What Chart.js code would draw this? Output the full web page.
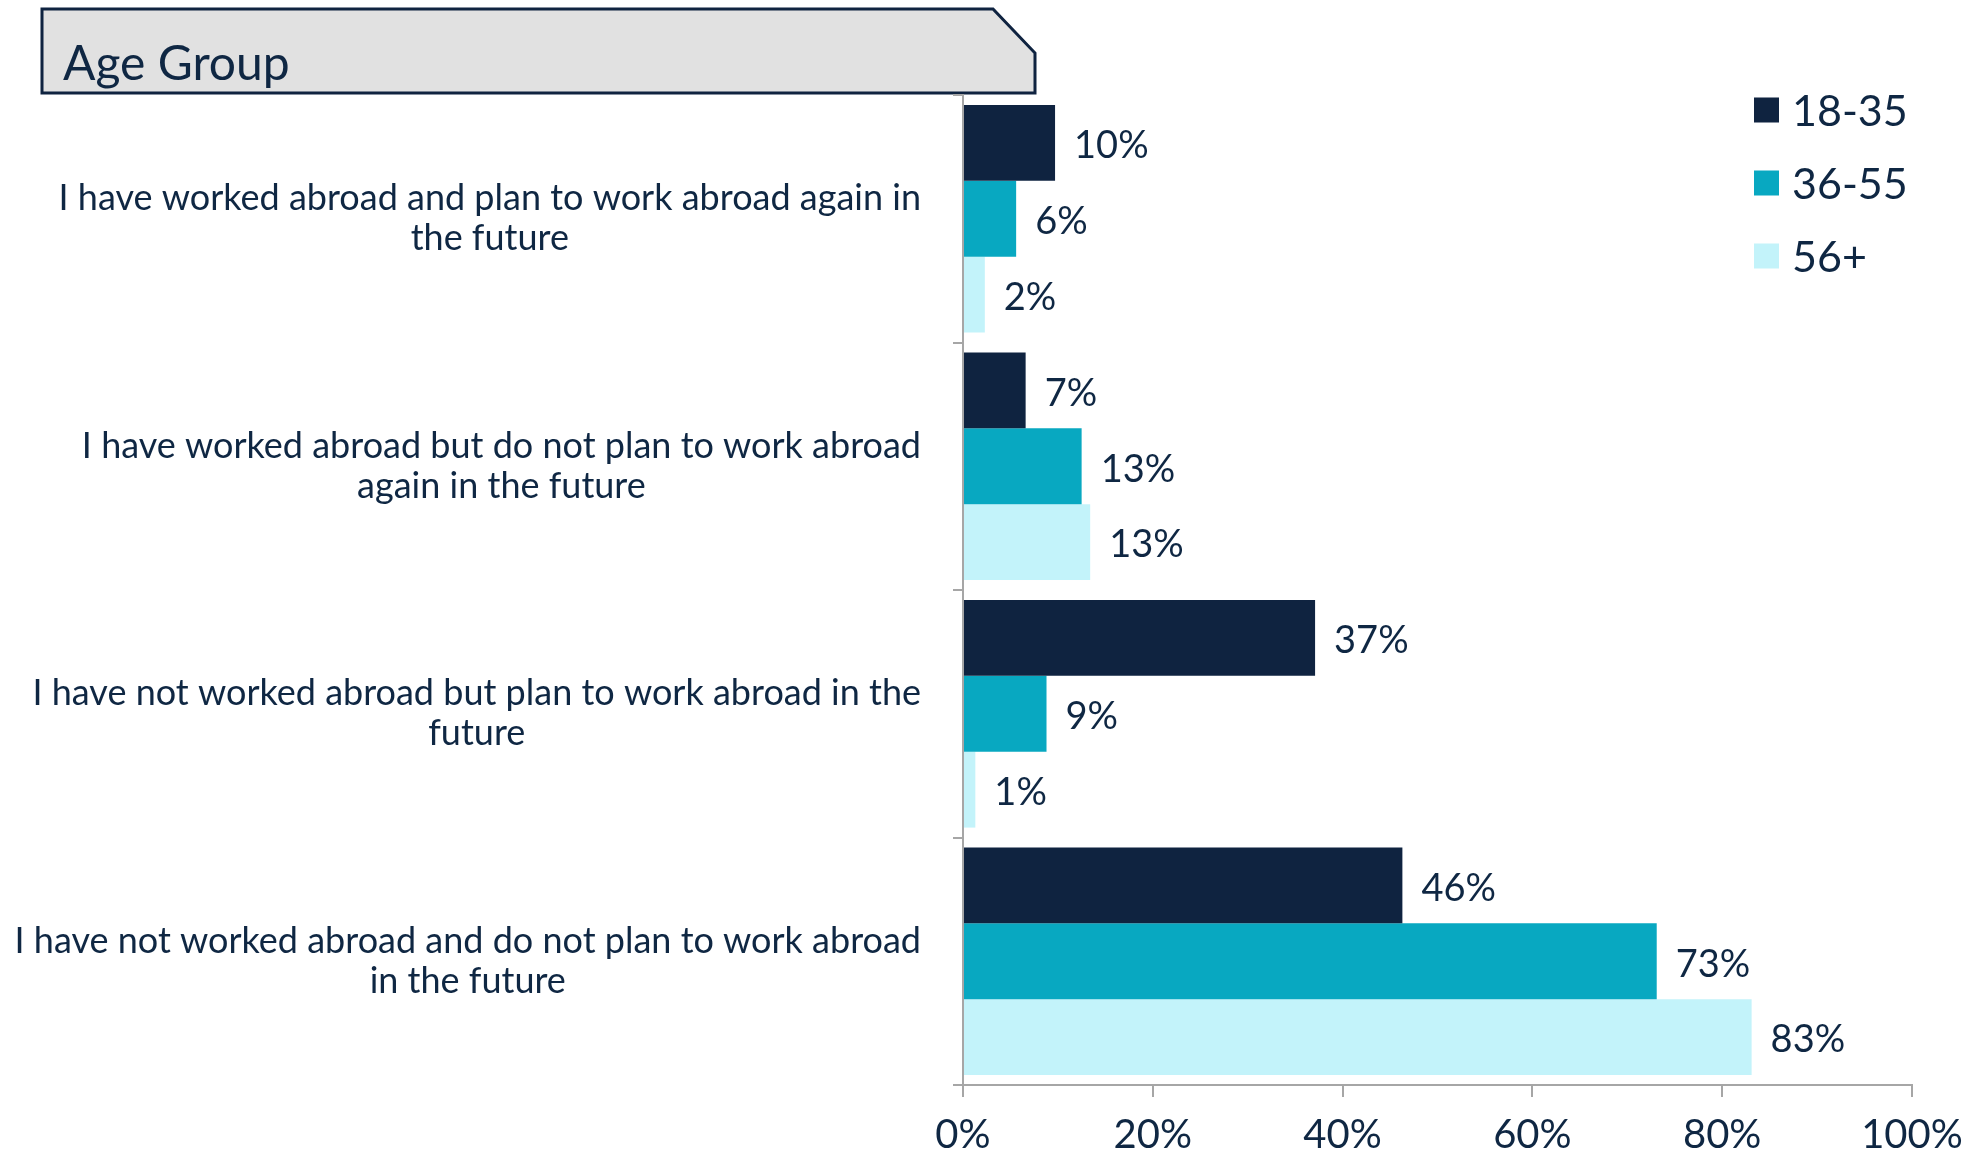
<!DOCTYPE html>
<html>
<head>
<meta charset="utf-8">
<script src="https://cdn.jsdelivr.net/npm/chart.js@4.4.1/dist/chart.umd.min.js"></script>
<style>
  body { margin: 0; background: #fff; }
  #wrap { width: 1979px; height: 1155px; position: relative; }
</style>
</head>
<body>
<div id="wrap"><canvas id="myChart"></canvas></div>
<script>
const categories = [
    ['I have worked abroad and plan to work abroad again in', 'the future'],
    ['I have worked abroad but do not plan to work abroad', 'again in the future'],
    ['I have not worked abroad but plan to work abroad in the', 'future'],
    ['I have not worked abroad and do not plan to work abroad', 'in the future']
];
const seriesNames = ['18-35', '36-55', '56+'];
const age18to35 = [9.7, 6.6, 37.1, 46.3];
const age36to55 = [5.6, 12.5, 8.8, 73.1];
const age56plus = [2.3, 13.4, 1.3, 83.1];
const xTicks = [0, 20, 40, 60, 80, 100];

const textColor = '#0f2743';
const axisColor = '#a6a6a6';
const barColors = ['#0f2340', '#08a8c1', '#c3f3fa'];
const narrowFont = "'Liberation Sans Narrow', 'Lato', sans-serif";
const mainFont = "'Lato', 'Open Sans', sans-serif";

// grey header box with the clipped corner
const titleBox = {
    id: 'titleBox',
    beforeDraw(chart) {
        const c = chart.ctx;
        c.save();
        c.beginPath();
        c.moveTo(42, 9);
        c.lineTo(993, 9);
        c.lineTo(1035, 53);
        c.lineTo(1035, 93);
        c.lineTo(42, 93);
        c.closePath();
        c.fillStyle = '#e1e1e1';
        c.fill();
        c.lineWidth = 3;
        c.strokeStyle = '#0f2340';
        c.stroke();
        c.fillStyle = textColor;
        c.font = '48px ' + mainFont;
        c.textBaseline = 'alphabetic';
        c.fillText('Age Group', 63, 80);
        c.restore();
    }
};

// category labels: block right-aligned to the axis, lines centred inside it
const catLabels = {
    id: 'catLabels',
    afterDraw(chart) {
        const c = chart.ctx;
        const y = chart.scales.y;
        c.save();
        c.font = '36px ' + mainFont;
        c.fillStyle = textColor;
        c.textAlign = 'center';
        c.textBaseline = 'middle';
        const right = 921, lh = 40;
        categories.forEach((lines, i) => {
            const w = Math.max(...lines.map(l => c.measureText(l).width));
            const cx = right - w / 2;
            const cy = y.getPixelForValue(i);
            lines.forEach((l, j) => {
                c.fillText(l, cx, cy + (j - (lines.length - 1) / 2) * lh);
            });
        });
        c.restore();
    }
};

// value labels at the end of each bar
const valueLabels = {
    id: 'valueLabels',
    afterDatasetsDraw(chart) {
        const c = chart.ctx;
        c.save();
        c.font = '38px ' + narrowFont;
        c.fillStyle = textColor;
        c.textAlign = 'left';
        c.textBaseline = 'middle';
        chart.data.datasets.forEach((ds, di) => {
            chart.getDatasetMeta(di).data.forEach((bar, i) => {
                c.fillText(Math.round(ds.data[i]) + '%', bar.x + 19, bar.y + 3);
            });
        });
        c.restore();
    }
};

// legend stacked at top right, over the empty plot area
const sideLegend = {
    id: 'sideLegend',
    afterDraw(chart) {
        const c = chart.ctx;
        c.save();
        c.font = '43px ' + mainFont;
        c.textBaseline = 'middle';
        chart.data.datasets.forEach((ds, i) => {
            const cy = 110 + i * 73;
            c.fillStyle = ds.backgroundColor;
            c.fillRect(1754, cy - 12.5, 25, 25);
            c.fillStyle = textColor;
            c.fillText(ds.label, 1792, cy + 2);
        });
        c.restore();
    }
};

const ctx = document.getElementById('myChart');
const myChart = new Chart(ctx, {
    type: 'bar',
    data: {
        labels: categories.map(l => l.join(' ')),
        datasets: [
            { label: seriesNames[0], data: age18to35, backgroundColor: barColors[0] },
            { label: seriesNames[1], data: age36to55, backgroundColor: barColors[1] },
            { label: seriesNames[2], data: age56plus, backgroundColor: barColors[2] }
        ]
    },
    options: {
        indexAxis: 'y',
        responsive: true,
        maintainAspectRatio: false,
        animation: false,
        devicePixelRatio: 1,
        categoryPercentage: 0.92,
        barPercentage: 1.0,
        layout: { padding: { top: 95, right: 67, bottom: 0, left: 0 } },
        plugins: {
            legend: { display: false },
            title: { display: false },
            tooltip: { enabled: false }
        },
        scales: {
            y: {
                offset: true,
                ticks: { display: false },
                grid: { offset: true, drawOnChartArea: false, color: axisColor, lineWidth: 2, tickLength: 10 },
                border: { color: axisColor, width: 2 },
                afterFit(scale) { scale.width = 963; }
            },
            x: {
                min: 0,
                max: 100,
                afterBuildTicks(scale) { scale.ticks = xTicks.map(v => ({ value: v })); },
                ticks: {
                    callback: v => v + '%',
                    font: { family: narrowFont, size: 40 },
                    color: textColor,
                    padding: 14,
                    maxRotation: 0
                },
                grid: { drawOnChartArea: false, color: axisColor, lineWidth: 2, tickLength: 12 },
                border: { color: axisColor, width: 2 },
                afterFit(scale) { scale.height = 70; }
            }
        }
    },
    plugins: [titleBox, catLabels, valueLabels, sideLegend]
});
</script>
</body>
</html>
